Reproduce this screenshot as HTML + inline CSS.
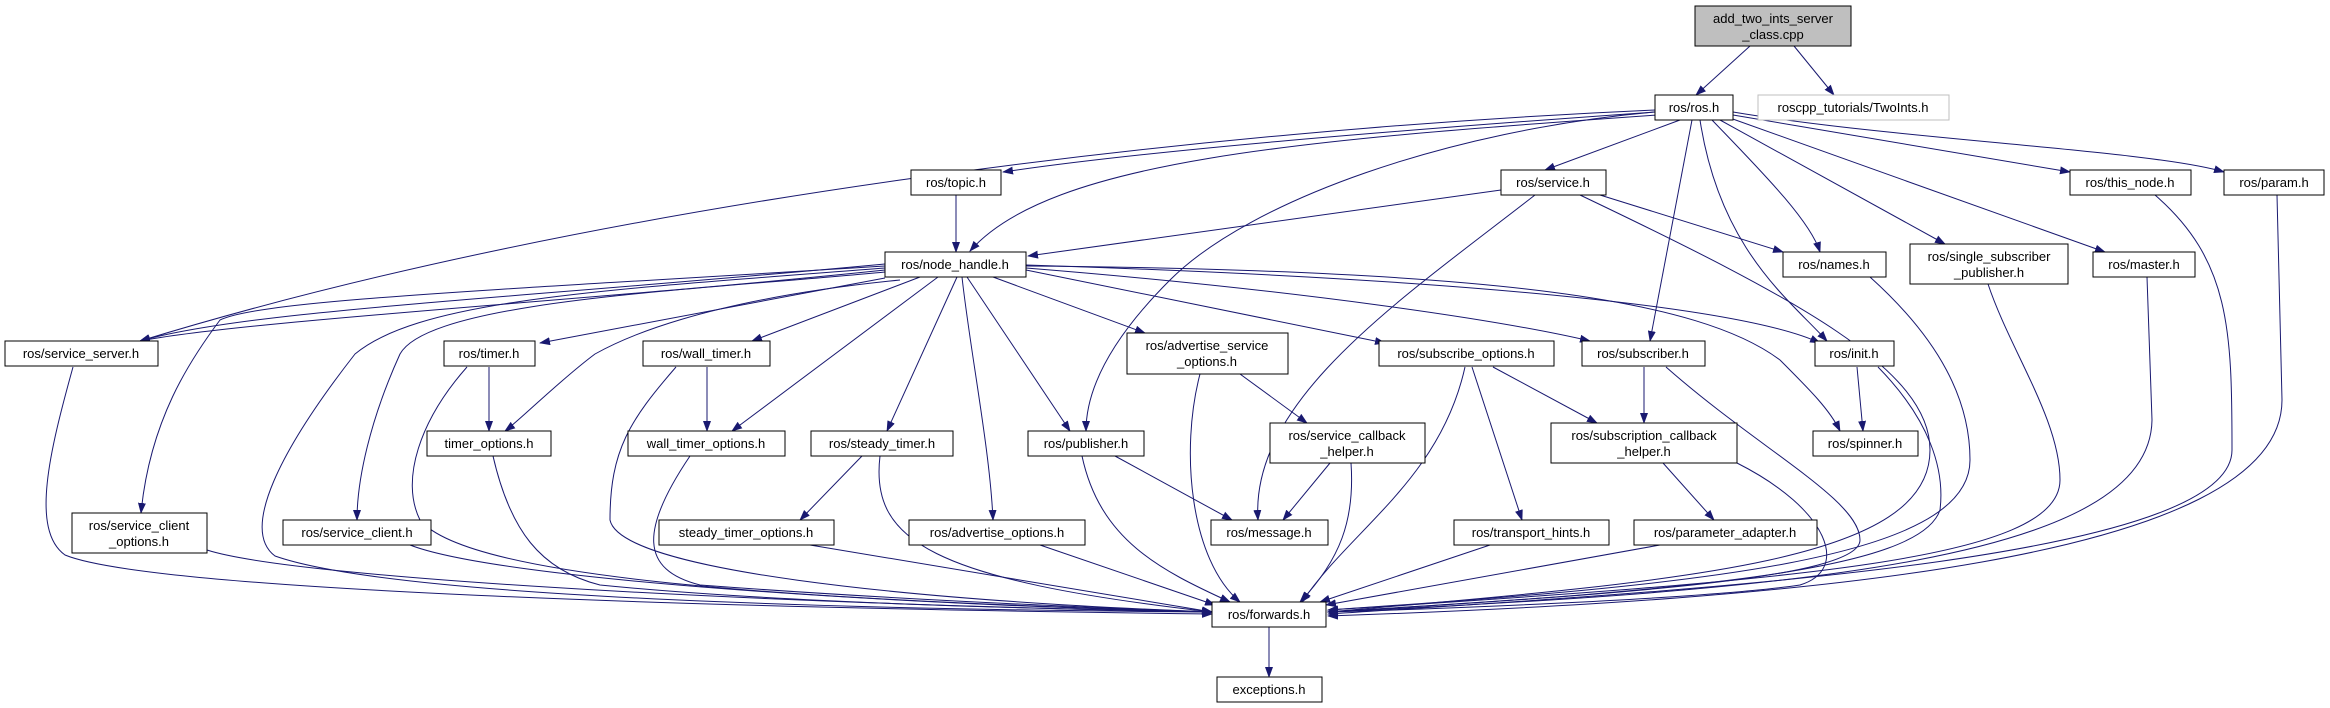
<!DOCTYPE html>
<html><head><meta charset="utf-8"><style>
html,body{margin:0;padding:0;background:#fff;}
svg{display:block;}
text{font-family:"Liberation Sans","DejaVu Sans",sans-serif;font-size:13px;fill:#000;text-anchor:middle;}
.n{fill:#fff;stroke:#000;stroke-width:1;}
.e{fill:none;stroke:#191970;stroke-width:1;}
</style></head><body>
<svg width="2330" height="708" viewBox="0 0 2330 708" xmlns="http://www.w3.org/2000/svg">
<defs><marker id="a" markerWidth="11" markerHeight="8" refX="10" refY="4" orient="auto" markerUnits="userSpaceOnUse"><polygon points="0,0 11,4 0,8" fill="#191970"/></marker></defs>
<g class="e" marker-end="url(#a)">
<path d="M1750,46 L1696,95"/>
<path d="M1794,46 L1834,95"/>
<path d="M1655,110 C1200,130 600,200 140,341"/>
<path d="M1655,112 C1400,130 1150,150 1003,172"/>
<path d="M1657,115 C1300,140 1050,160 970,251"/>
<path d="M1655,112 C1450,130 1250,200 1170,280 C1110,340 1086,390 1086,431"/>
<path d="M1680,120 L1545,170"/>
<path d="M1712,120 C1760,170 1810,220 1820,252"/>
<path d="M1692,120 L1650,341"/>
<path d="M1700,120 C1720,250 1790,300 1827,341"/>
<path d="M1720,120 L1945,244"/>
<path d="M1730,118 L2105,252"/>
<path d="M1733,115 L2070,172"/>
<path d="M1733,112 C1900,140 2150,150 2224,172"/>
<path d="M956,195 L956,252"/>
<path d="M1501,190 L1028,256"/>
<path d="M1535,195 C1400,300 1250,400 1258,520"/>
<path d="M1580,195 C1800,300 1930,370 1930,450 C1930,560 1700,580 1328,612"/>
<path d="M1600,195 L1783,252"/>
<path d="M2155,195 C2230,260 2232,330 2232,450 C2232,560 1700,590 1328,614"/>
<path d="M2277,195 L2282,400 C2282,560 1800,600 1328,616"/>
<path d="M2147,277 L2152,420 C2150,560 1800,590 1328,612"/>
<path d="M1988,284 C2010,350 2060,420 2060,480 C2060,560 1800,580 1328,610"/>
<path d="M1870,277 C1940,340 1970,400 1970,460 C1970,560 1700,585 1328,610"/>
<path d="M1878,367 C1930,420 1945,470 1940,510 C1920,570 1700,590 1328,612"/>
<path d="M1857,367 L1863,431"/>
<path d="M1666,367 C1760,450 1860,500 1860,540 C1860,580 1600,595 1328,612"/>
<path d="M1644,367 L1644,423"/>
<path d="M1493,367 L1597,423"/>
<path d="M1465,367 C1440,480 1350,530 1302,602"/>
<path d="M1472,367 L1522,520"/>
<path d="M1663,463 L1714,520"/>
<path d="M1737,463 C1830,510 1850,570 1800,585 C1700,600 1400,610 1328,612"/>
<path d="M1660,545 L1326,605"/>
<path d="M1490,545 L1320,602"/>
<path d="M1330,463 L1283,520"/>
<path d="M1351,463 C1355,520 1340,560 1300,602"/>
<path d="M1240,374 L1307,423"/>
<path d="M1200,374 C1180,450 1190,560 1240,602"/>
<path d="M1115,456 L1232,520"/>
<path d="M1082,456 C1100,540 1160,570 1230,602"/>
<path d="M1040,545 L1215,605"/>
<path d="M810,545 L1212,612"/>
<path d="M862,456 L800,520"/>
<path d="M880,456 C870,540 930,580 1212,612"/>
<path d="M707,367 L707,431"/>
<path d="M676,367 C630,420 610,450 610,520 C620,570 900,600 1212,612"/>
<path d="M690,456 C640,530 640,570 700,585 C900,600 1100,608 1212,612"/>
<path d="M489,367 L489,431"/>
<path d="M467,367 C420,420 400,480 420,520 C470,580 800,600 1212,612"/>
<path d="M493,456 C510,530 540,570 600,585 C800,605 1100,610 1212,612"/>
<path d="M410,545 C500,580 900,605 1212,612"/>
<path d="M207,550 C300,580 800,605 1212,612"/>
<path d="M73,367 C50,450 30,530 65,555 C150,590 700,608 1212,614"/>
<path d="M885,264 C500,300 250,310 140,341"/>
<path d="M885,270 C600,300 250,320 140,341"/>
<path d="M885,266 C500,290 260,300 220,320 C190,360 150,420 141,513"/>
<path d="M885,268 C600,290 420,300 355,354 C280,450 240,530 275,556 C400,600 900,610 1212,612"/>
<path d="M885,272 C700,290 430,300 400,354 C370,420 357,480 357,520"/>
<path d="M885,278 L540,343"/>
<path d="M900,280 C700,300 620,340 595,354 C560,380 520,420 505,431"/>
<path d="M920,277 L752,341"/>
<path d="M938,277 L732,431"/>
<path d="M957,277 L887,431"/>
<path d="M962,277 C970,350 990,450 993,520"/>
<path d="M967,277 L1070,431"/>
<path d="M993,277 L1145,333"/>
<path d="M1026,270 L1385,343"/>
<path d="M1026,268 C1300,290 1500,320 1590,341"/>
<path d="M1026,265 C1500,280 1750,310 1820,343"/>
<path d="M1026,266 C1500,270 1700,300 1780,360 C1810,390 1830,410 1840,431"/>
<path d="M1269,627 L1269,677"/>
</g>
<g>
<rect x="1695" y="6" width="156" height="40" style="fill:#bfbfbf;stroke:#000"/>
<text x="1773" y="23">add_two_ints_server</text><text x="1773" y="39">_class.cpp</text>
<rect class="n" x="1655" y="95" width="78" height="25"/><text x="1694" y="112">ros/ros.h</text>
<rect x="1758" y="95" width="191" height="25" style="fill:#fff;stroke:#bfbfbf"/><text x="1853" y="112">roscpp_tutorials/TwoInts.h</text>
<rect class="n" x="911" y="170" width="90" height="25"/><text x="956" y="187">ros/topic.h</text>
<rect class="n" x="1501" y="170" width="105" height="25"/><text x="1553" y="187">ros/service.h</text>
<rect class="n" x="2070" y="170" width="121" height="25"/><text x="2130" y="187">ros/this_node.h</text>
<rect class="n" x="2224" y="170" width="100" height="25"/><text x="2274" y="187">ros/param.h</text>
<rect class="n" x="885" y="252" width="141" height="25"/><text x="955" y="269">ros/node_handle.h</text>
<rect class="n" x="1783" y="252" width="103" height="25"/><text x="1834" y="269">ros/names.h</text>
<rect class="n" x="1910" y="244" width="158" height="40"/><text x="1989" y="261">ros/single_subscriber</text><text x="1989" y="277">_publisher.h</text>
<rect class="n" x="2093" y="252" width="102" height="25"/><text x="2144" y="269">ros/master.h</text>
<rect class="n" x="5" y="341" width="153" height="25"/><text x="81" y="358">ros/service_server.h</text>
<rect class="n" x="444" y="341" width="91" height="25"/><text x="489" y="358">ros/timer.h</text>
<rect class="n" x="643" y="341" width="127" height="25"/><text x="706" y="358">ros/wall_timer.h</text>
<rect class="n" x="1127" y="333" width="161" height="41"/><text x="1207" y="350">ros/advertise_service</text><text x="1207" y="366">_options.h</text>
<rect class="n" x="1379" y="341" width="175" height="25"/><text x="1466" y="358">ros/subscribe_options.h</text>
<rect class="n" x="1582" y="341" width="123" height="25"/><text x="1643" y="358">ros/subscriber.h</text>
<rect class="n" x="1815" y="341" width="79" height="25"/><text x="1854" y="358">ros/init.h</text>
<rect class="n" x="427" y="431" width="124" height="25"/><text x="489" y="448">timer_options.h</text>
<rect class="n" x="628" y="431" width="157" height="25"/><text x="706" y="448">wall_timer_options.h</text>
<rect class="n" x="811" y="431" width="142" height="25"/><text x="882" y="448">ros/steady_timer.h</text>
<rect class="n" x="1028" y="431" width="116" height="25"/><text x="1086" y="448">ros/publisher.h</text>
<rect class="n" x="1270" y="423" width="155" height="40"/><text x="1347" y="440">ros/service_callback</text><text x="1347" y="456">_helper.h</text>
<rect class="n" x="1551" y="423" width="186" height="40"/><text x="1644" y="440">ros/subscription_callback</text><text x="1644" y="456">_helper.h</text>
<rect class="n" x="1813" y="431" width="105" height="25"/><text x="1865" y="448">ros/spinner.h</text>
<rect class="n" x="72" y="513" width="135" height="40"/><text x="139" y="530">ros/service_client</text><text x="139" y="546">_options.h</text>
<rect class="n" x="283" y="520" width="148" height="25"/><text x="357" y="537">ros/service_client.h</text>
<rect class="n" x="659" y="520" width="175" height="25"/><text x="746" y="537">steady_timer_options.h</text>
<rect class="n" x="909" y="520" width="176" height="25"/><text x="997" y="537">ros/advertise_options.h</text>
<rect class="n" x="1211" y="520" width="117" height="25"/><text x="1269" y="537">ros/message.h</text>
<rect class="n" x="1454" y="520" width="155" height="25"/><text x="1531" y="537">ros/transport_hints.h</text>
<rect class="n" x="1634" y="520" width="183" height="25"/><text x="1725" y="537">ros/parameter_adapter.h</text>
<rect class="n" x="1212" y="602" width="114" height="25"/><text x="1269" y="619">ros/forwards.h</text>
<rect class="n" x="1217" y="677" width="105" height="25"/><text x="1269" y="694">exceptions.h</text>
</g>
</svg>
</body></html>
